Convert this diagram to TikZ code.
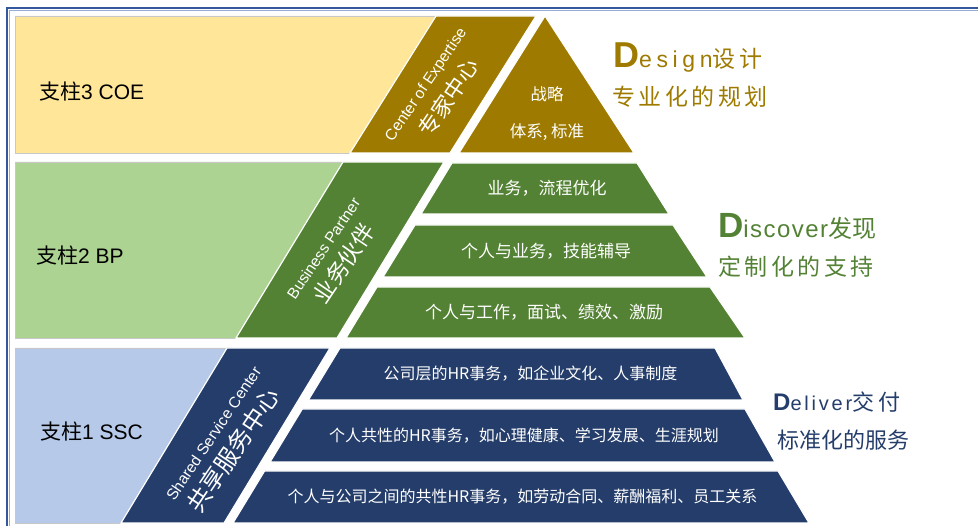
\documentclass[tikz,border=0pt]{standalone}
\usepackage{fontspec}
\setmainfont{Liberation Sans}
\newfontfamily\cjk{Noto Sans CJK SC}
\newcommand\fsz[1]{\fontsize{#1}{#1}\selectfont}

\definecolor{coedark}{RGB}{158,123,0}
\definecolor{coelight}{RGB}{255,230,153}
\definecolor{bpdark}{RGB}{84,130,53}
\definecolor{bplight}{RGB}{172,211,146}
\definecolor{sscdark}{RGB}{36,61,106}
\definecolor{ssclight}{RGB}{182,201,232}
\definecolor{frameblue}{RGB}{52,88,158}
\definecolor{framelight}{RGB}{150,172,212}
\definecolor{edgegray}{RGB}{200,200,200}

\tikzset{
  bandedge/.style={draw=edgegray, line width=0.8pt},
  darkshape/.style={draw=white, line width=1.2pt, line join=miter},
  rowtext/.style={text=white, inner sep=0pt, font=\cjk\fsz{17}},
  bluetext/.style={text=white, inner sep=0pt, font=\cjk\fsz{16}},
  pillar/.style={anchor=west, inner sep=0pt, text=black, font=\fsz{21}},
  slantsmall/.style={text=white, inner sep=0pt, rotate=56, font=\fsz{15.5}},
  slantbig/.style={text=white, inner sep=0pt, rotate=56},
  headline/.style={anchor=base west, inner sep=0pt},
  subline/.style={anchor=west, inner sep=0pt},
}

\begin{document}
\begin{tikzpicture}[x=1pt, y=-1pt]
\useasboundingbox (0,0) rectangle (978,526);
\fill[white] (0,0) rectangle (978,526);

% outer frame (top and left rules)
\draw[framelight, line width=1pt] (9.5,526) -- (9.5,10.5) -- (978,10.5);
\draw[frameblue, line width=2pt] (7,526) -- (7,8.5) -- (978,8.5);

% ---------------- pillar 3: COE ----------------
\fill[coelight] (15,16) -- (436,16) -- (350,153) -- (15,153) -- cycle;
\draw[bandedge] (436,16) -- (15,16) -- (15,153) -- (350,153);
\filldraw[darkshape, fill=coedark] (436,16) -- (536,16) -- (450,153) -- (350,153) -- cycle;
\filldraw[darkshape, fill=coedark] (545,16) -- (634,153) -- (459,153) -- cycle;

\node[pillar] (p3) at (39,92) {{\cjk 支柱}3 COE};
\node[slantsmall] (coeen) at (426.5,85) {Center of Expertise};
\node[slantbig, font=\cjk\fsz{22}] (coecn) at (448.5,97.5) {专家中心};
\node[rowtext, font=\cjk\fsz{16.5}] (coe1) at (547,94) {战略};
\node[rowtext, font=\cjk\fsz{16.5}] (coe2) at (547,132) {体系, 标准};

% ---------------- pillar 2: BP ----------------
\fill[bplight] (15,162) -- (343,162) -- (236,338) -- (15,338) -- cycle;
\draw[bandedge] (343,162) -- (15,162) -- (15,338) -- (236,338);
\filldraw[darkshape, fill=bpdark] (343,162) -- (444,162) -- (337,338) -- (236,338) -- cycle;
\filldraw[darkshape, fill=bpdark] (452,163) -- (637,163) -- (669,214) -- (421,214) -- cycle;
\filldraw[darkshape, fill=bpdark] (415,225) -- (673,225) -- (707,277) -- (383,277) -- cycle;
\filldraw[darkshape, fill=bpdark] (377,287) -- (710,287) -- (745,338) -- (346,338) -- cycle;

\node[pillar] (p2) at (36,256) {{\cjk 支柱}2 BP};
\node[slantsmall] (bpen) at (323.5,248.5) {Business Partner};
\node[slantbig, font=\cjk\fsz{22.5}] (bpcn) at (343.5,263.5) {业务伙伴};
\node[rowtext] (bp1) at (547,188.5) {业务，流程优化};
\node[rowtext] (bp2) at (546,251) {个人与业务，技能辅导};
\node[rowtext] (bp3) at (544,312.5) {个人与工作，面试、绩效、激励};

% ---------------- pillar 1: SSC ----------------
\fill[ssclight] (15,348) -- (227,348) -- (121,523) -- (15,523) -- cycle;
\draw[bandedge] (227,348) -- (15,348) -- (15,523) -- (121,523);
\filldraw[darkshape, fill=sscdark] (227,348) -- (330,348) -- (224,523) -- (121,523) -- cycle;
\filldraw[darkshape, fill=sscdark] (340,348) -- (715,348) -- (743,400) -- (308.4,400) -- cycle;
\filldraw[darkshape, fill=sscdark] (302.3,409) -- (745,409) -- (775,462) -- (270.1,462) -- cycle;
\filldraw[darkshape, fill=sscdark] (264.6,471) -- (778,471) -- (809,523) -- (233,523) -- cycle;

\node[pillar] (p1) at (40,432) {{\cjk 支柱}1 SSC};
\node[slantsmall] (sscen) at (213.5,433.5) {Shared Service Center};
\node[slantbig, font=\cjk\fsz{24}] (ssccn) at (233,450) {共享服务中心};
\node[bluetext] (ssc1) at (530.5,373.5) {公司层的HR事务，如企业文化、人事制度};
\node[bluetext] (ssc2) at (524,435.5) {个人共性的HR事务，如心理健康、学习发展、生涯规划};
\node[bluetext] (ssc3) at (522.5,497) {个人与公司之间的共性HR事务，如劳动合同、薪酬福利、员工关系};

% ---------------- side captions ----------------
\node[headline, text=coedark] (designhead) at (613,68)
  {{\bfseries\fsz{36}D}{\fsz{23}\addfontfeature{LetterSpace=20}esign}{\cjk\fsz{23}\addfontfeature{LetterSpace=15}设计}};
\node[subline, text=coedark] (designsub) at (612,97)
  {\cjk\fsz{23}\addfontfeature{LetterSpace=15}专业化的规划};

\node[headline, text=bpdark] (discoverhead) at (718,238)
  {{\bfseries\fsz{35}D}{\fsz{24}\addfontfeature{LetterSpace=6}iscover}{\cjk\fsz{24}发现}};
\node[subline, text=bpdark] (discoversub) at (718,267)
  {\cjk\fsz{23}\addfontfeature{LetterSpace=15}定制化的支持};

\node[headline, text=sscdark] (deliverhead) at (773,411)
  {{\bfseries\fsz{24}D}{\fsz{20}\addfontfeature{LetterSpace=14}eliver}{\cjk\fsz{22}\addfontfeature{LetterSpace=18}交付}};
\node[subline, text=sscdark] (deliversub) at (777,440)
  {\cjk\fsz{22}标准化的服务};
\end{tikzpicture}
\end{document}
